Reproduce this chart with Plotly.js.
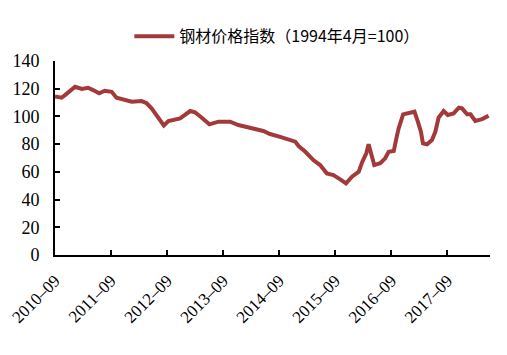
<!DOCTYPE html>
<html>
<head>
<meta charset="utf-8">
<script src="https://cdn.plot.ly/plotly-3.0.1.min.js"></script>
<style>html,body{margin:0;padding:0;background:#fff;}#chart{width:507px;height:355px;}</style>
</head>
<body>
<div id="chart"></div>
<script>
const seriesName = "钢材价格指数（1994年4月=100）";
const dates = [
"2010-09-01","2010-10-14","2010-11-05","2011-01-10","2011-02-23","2011-04-05","2011-05-07","2011-06-16","2011-07-22","2011-09-05",
"2011-10-07","2011-11-20","2012-01-14","2012-03-18","2012-04-20","2012-05-22","2012-06-24","2012-08-10","2012-09-09","2012-10-01",
"2012-11-24","2013-01-29","2013-03-01","2013-04-14","2013-06-03","2013-08-01","2013-10-16","2013-12-09","2014-02-03","2014-03-27",
"2014-05-20","2014-07-03","2014-09-07","2014-11-07","2014-12-14","2015-01-05","2015-02-18","2015-04-11","2015-05-25","2015-07-08",
"2015-08-20","2015-10-03","2015-11-10","2015-12-19","2016-02-01","2016-02-23","2016-03-21","2016-04-05","2016-04-20","2016-05-12",
"2016-06-20","2016-07-22","2016-08-14","2016-09-16","2016-10-03","2016-10-18","2016-11-16","2016-12-22","2017-01-29","2017-02-20",
"2017-03-12","2017-03-25","2017-04-21","2017-05-23","2017-06-14","2017-07-05","2017-08-07","2017-09-03","2017-10-11","2017-11-14",
"2017-12-05","2018-01-07","2018-01-29","2018-03-01","2018-04-14","2018-05-27"
];
const values = [
114.5,113.5,115.4,121.4,119.8,120.7,119.0,116.7,118.5,117.8,
113.5,112.3,110.6,111.1,109.5,105.8,101.0,93.5,96.7,97.4,
98.6,103.9,103.0,99.1,94.3,96.2,96.2,93.8,92.6,90.9,
89.5,87.3,85.2,83.5,81.8,78.6,74.5,68.5,64.9,58.9,
57.7,54.6,51.7,56.5,60.1,67.0,73.4,79.9,73.4,64.9,
66.2,69.8,74.5,75.0,84.2,91.4,101.5,102.2,103.4,96.2,
89.0,80.6,79.9,83.0,89.0,99.1,103.9,101.0,102.2,106.3,
105.8,101.5,101.5,96.7,98.1,100.5
];
const tickDates = ["2010-09-01","2011-09-01","2012-09-01","2013-09-01","2014-09-01","2015-09-01","2016-09-01","2017-09-01"];
const tickLabels = ["2010–09","2011–09","2012–09","2013–09","2014–09","2015–09","2016–09","2017–09"];
const yTicks = [0,20,40,60,80,100,120,140];

const lineColor = "#A33A3A";
const trace = {
  x: dates, y: values, type: "scatter", mode: "lines", name: seriesName,
  line: {color: lineColor, width: 4}
};
const layout = {
  width: 507, height: 355,
  margin: {l: 55, r: 17, t: 61, b: 100},
  paper_bgcolor: "#fff", plot_bgcolor: "#fff",
  showlegend: true,
  legend: {
    orientation: "h", x: 0.51, xanchor: "center", y: 1.04, yanchor: "bottom",
    font: {family: "Noto Sans CJK SC", size: 16, color: "#000"},
    itemwidth: 40
  },
  xaxis: {
    type: "date", range: ["2010-09-01", "2018-06-05"],
    tickmode: "array", tickvals: tickDates, ticktext: tickLabels,
    tickangle: -45, ticks: "inside", ticklen: 5, tickwidth: 2, tickcolor: "#000",
    ticklabelstandoff: 7,
    showline: true, linecolor: "#000", linewidth: 2, showgrid: false, zeroline: false,
    tickfont: {family: "Liberation Serif", size: 17, color: "#000"}
  },
  yaxis: {
    range: [0, 140], tickmode: "array", tickvals: yTicks,
    ticks: "inside", ticklen: 5, tickwidth: 2, tickcolor: "#000",
    ticklabelstandoff: 10,
    showline: true, linecolor: "#000", linewidth: 2, showgrid: false, zeroline: false,
    tickfont: {family: "Liberation Serif", size: 18, color: "#000"}
  }
};
Plotly.newPlot("chart", [trace], layout, {displayModeBar: false, staticPlot: true});
</script>
</body>
</html>
